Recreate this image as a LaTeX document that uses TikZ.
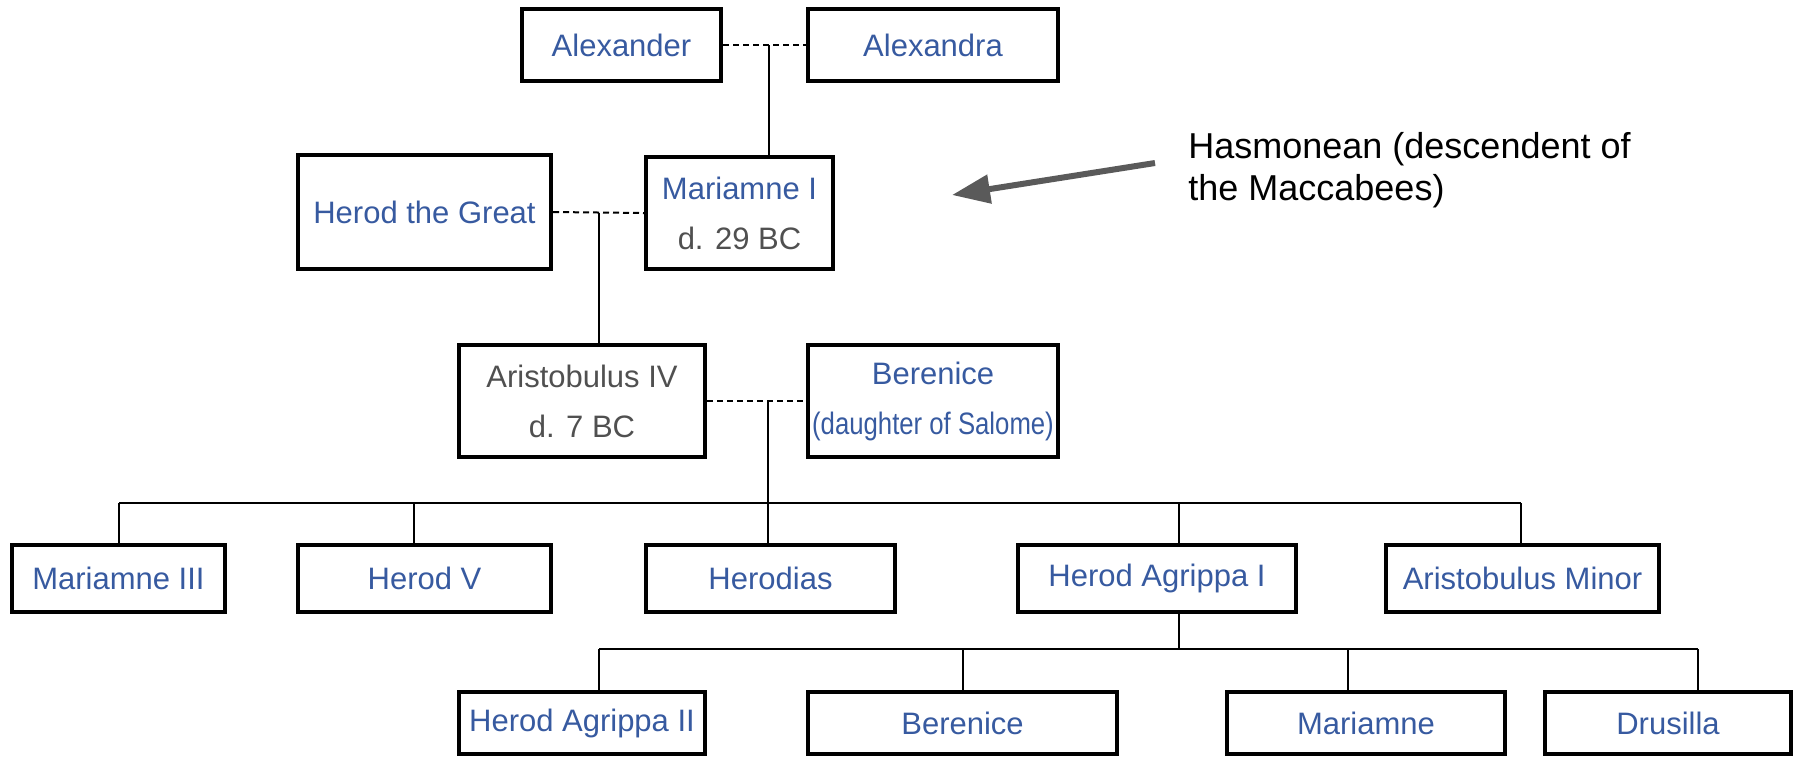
\documentclass[tikz,border=0pt]{standalone}
\usepackage{fontspec}
\setmainfont{Liberation Sans}
\usetikzlibrary{calc,arrows.meta}

\definecolor{nameblue}{RGB}{55,90,160}
\definecolor{notegray}{RGB}{80,80,80}
\definecolor{arrowgray}{RGB}{90,90,90}

\tikzset{
  person/.style={draw, line width=2pt, inner sep=0pt, align=center, text=nameblue,
    font=\fontsize{15.5}{25}\selectfont},
  spouse/.style={line width=1pt, dash pattern=on 3pt off 2pt},
  descent/.style={line width=1pt},
}

\begin{document}
\begin{tikzpicture}[x=0.5pt, y=-0.5pt]
    \useasboundingbox (0,0) rectangle (1808,757);

    % generation 1
    \node[person, minimum width=99.5pt, minimum height=36pt] (alexander) at (621.5,45) {Alexander};
    \node[person, minimum width=125pt, minimum height=36pt] (alexandra) at (933,45) {Alexandra};

    % generation 2
    \node[person, minimum width=126.5pt, minimum height=57pt] (herod) at (424.5,212) {Herod the Great};
    \node[person, minimum width=93.5pt, minimum height=56pt] (mariamnei) at (739.5,213)
        {Mariamne I\\\textcolor{notegray}{d. 29 BC}};

    % generation 3
    \node[person, text=notegray, minimum width=123pt, minimum height=56pt] (aristobulusiv) at (582,401)
        {Aristobulus IV\\d. 7 BC};
    \node[person, minimum width=125pt, minimum height=56pt] (berenicei) at (933,401)
        {Berenice\\\scalebox{0.83}[1]{(daughter of Salome)}};

    % generation 4
    \node[person, minimum width=106.5pt, minimum height=33.5pt] (mariamneiii) at (118.5,578.5) {Mariamne III};
    \node[person, minimum width=126.5pt, minimum height=33.5pt] (herodv) at (424.5,578.5) {Herod V};
    \node[person, minimum width=124.5pt, minimum height=33.5pt] (herodias) at (770.5,578.5) {Herodias};
    \node[person, minimum width=139pt, minimum height=33.5pt] (agrippai) at (1157,578.5) {Herod Agrippa I};
    \node[person, minimum width=136.5pt, minimum height=33.5pt] (aristobulusminor) at (1522.5,578.5) {Aristobulus Minor};

    % generation 5
    \node[person, minimum width=123pt, minimum height=31pt] (agrippaii) at (582,723) {Herod Agrippa II};
    \node[person, minimum width=154.5pt, minimum height=31pt] (bereniceii) at (962.5,723) {Berenice};
    \node[person, minimum width=139pt, minimum height=31pt] (mariamne) at (1366,723) {Mariamne};
    \node[person, minimum width=123pt, minimum height=31pt] (drusilla) at (1668,723) {Drusilla};

    % marriages
    \draw[spouse] (alexander.east) -- (alexandra.west);
    \draw[spouse] (herod.east) -- (mariamnei.west);
    \draw[spouse] (aristobulusiv.east) -- (berenicei.west);

    \coordinate (c1) at ($(alexander.east)!0.55!(alexandra.west)$);
    \coordinate (c2) at ($(herod.east)!0.5!(mariamnei.west)$);
    \coordinate (c3) at ($(aristobulusiv.east)!0.62!(berenicei.west)$);

    \draw[descent] (c1) -- (c1 |- mariamnei.north);
    \draw[descent] (c2) -- (c2 |- aristobulusiv.north);
    \draw[descent] (c3) -- (c3 |- herodias.north);

    % children of Aristobulus IV
    \coordinate (s1) at (119,503);
    \coordinate (s2) at (414,503);
    \coordinate (s3) at (1179,503);
    \coordinate (s4) at (1521,503);
    \draw[descent] (s1) -- (s4);
    \foreach \s/\n in {s1/mariamneiii, s2/herodv, s3/agrippai, s4/aristobulusminor}
        \draw[descent] (\s) -- (\s |- \n.north);

    % children of Herod Agrippa I
    \coordinate (g0) at (1179,649);
    \coordinate (g1) at (599,649);
    \coordinate (g2) at (963,649);
    \coordinate (g3) at (1348,649);
    \coordinate (g4) at (1698,649);
    \draw[descent] (g0 |- agrippai.south) -- (g0);
    \draw[descent] (g1) -- (g4);
    \foreach \g/\n in {g1/agrippaii, g2/bereniceii, g3/mariamne, g4/drusilla}
        \draw[descent] (\g) -- (\g |- \n.north);

    % note
    \node[anchor=north west, inner sep=0pt, align=left, font=\fontsize{18}{21}\selectfont] (note) at (1188,132)
        {Hasmonean (descendent of\\the Maccabees)};
    \coordinate (notetail) at (1155,163);
    \coordinate (notetip) at (952,195);
    \draw[arrowgray, line width=3pt, -{Triangle[length=19pt,width=14pt]}] (notetail) -- (notetip);

\end{tikzpicture}
\end{document}
